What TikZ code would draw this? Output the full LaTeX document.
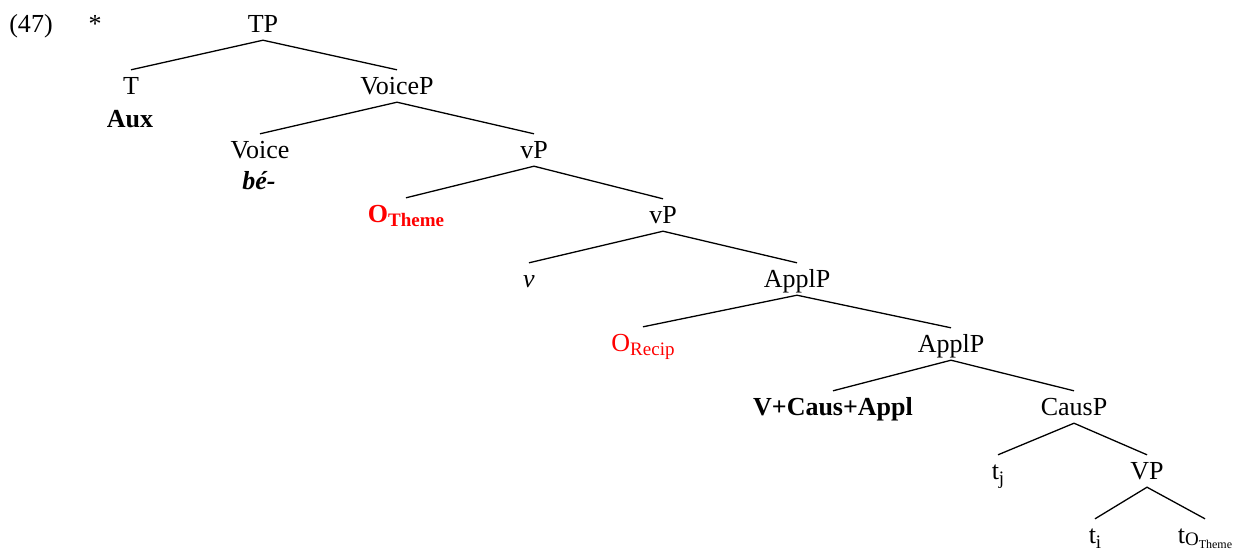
\documentclass[tikz,border=0pt]{standalone}
\usepackage{fontspec}
\setmainfont{Liberation Serif}
% lowered, smaller subscript text
\newcommand\lowsub[2][5pt]{\raisebox{-#1}{\fontsize{19}{19}\selectfont #2}}
\newcommand\tinysub[2][3pt]{\raisebox{-#1}{\fontsize{12}{12}\selectfont #2}}
\begin{document}
\begin{tikzpicture}[x=1pt,y=-1pt,
  lbl/.style={font=\fontsize{26}{30}\selectfont, text height=18pt, text depth=2pt,
              inner xsep=0pt, inner ysep=6pt, anchor=base},
  branch/.style={line width=1.3pt},
  hilite/.style={text=red}]
\useasboundingbox (0,0) rectangle (1238,550);

% example number and judgement
\node[lbl] (ex)   at (31,32)  {(47)};
\node[lbl] (star) at (95,32)  {*};

% tree labels
\node[lbl] (TP)     at (263,32)  {TP};
\node[lbl] (T)      at (131,94)  {T};
\node[lbl] (Aux)    at (130,127) {\bfseries Aux};
\node[lbl] (VoiceP) at (397,94)  {VoiceP};
\node[lbl] (Voice)  at (260,158) {Voice};
\node[lbl] (be)     at (259,189) {\bfseries\itshape bé-};
\node[lbl] (vPa)    at (534,158) {vP};
\node[lbl,hilite] (OTheme) at (406,222) {\bfseries O\lowsub[4pt]{Theme}};
\node[lbl] (vPb)    at (663,223) {vP};
\node[lbl] (v)      at (529,287) {\itshape v};
\node[lbl] (ApplPa) at (797,287) {ApplP};
\node[lbl,hilite] (ORecip) at (643,351) {O\lowsub[4pt]{Recip}};
\node[lbl] (ApplPb) at (951,352) {ApplP};
\node[lbl] (VCA)    at (833,415) {\bfseries V+Caus+Appl};
\node[lbl] (CausP)  at (1074,415) {CausP};
\node[lbl] (tj)     at (998,479) {t\lowsub{j}};
\node[lbl] (VP)     at (1147,479) {VP};
\node[lbl] (ti)     at (1095,543) {t\lowsub{i}};
\node[lbl] (tO)     at (1205,543) {t\lowsub[2pt]{O\tinysub{Theme}}};

% branches
\draw[branch] (T.north) -- (TP.south) -- (VoiceP.north);
\draw[branch] (Voice.north) -- (VoiceP.south) -- (vPa.north);
\draw[branch] (OTheme.north) -- (vPa.south) -- (vPb.north);
\draw[branch] (v.north) -- (vPb.south) -- (ApplPa.north);
\draw[branch] (ORecip.north) -- (ApplPa.south) -- (ApplPb.north);
\draw[branch] (VCA.north) -- (ApplPb.south) -- (CausP.north);
\draw[branch] (tj.north) -- (CausP.south) -- (VP.north);
\draw[branch] (ti.north) -- (VP.south) -- (tO.north);
\end{tikzpicture}
\end{document}
